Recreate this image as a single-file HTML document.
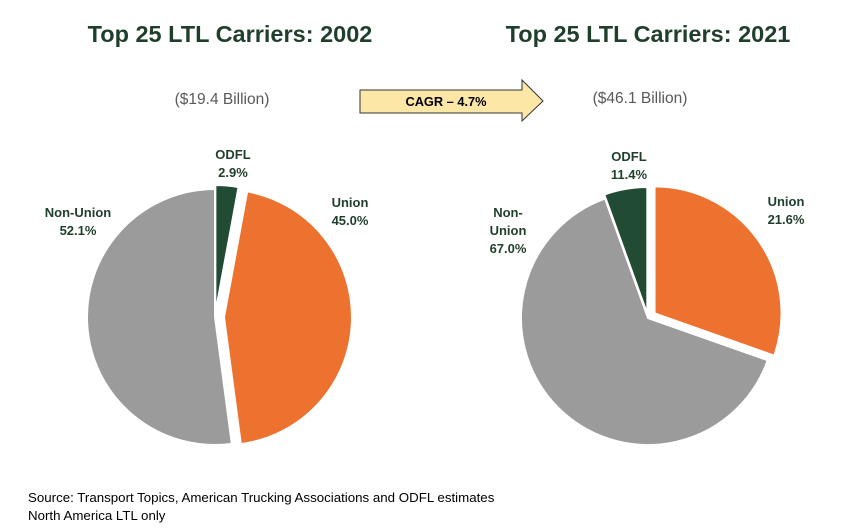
<!DOCTYPE html>
<html><head><meta charset="utf-8"><style>
body{margin:0;width:844px;height:532px;background:#fff;font-family:"Liberation Sans",sans-serif;position:relative;overflow:hidden}
.t{position:absolute;font-weight:bold;font-size:23.5px;color:#1f3f2c;white-space:nowrap;transform:translateX(-50%)}
.s{position:absolute;font-size:15.5px;color:#595959;white-space:nowrap;transform:translateX(-50%)}
.src{position:absolute;left:28px;font-size:13.3px;color:#000;white-space:nowrap}
</style></head><body>
<div class="t" style="left:230px;top:21px">Top 25 LTL Carriers: 2002</div>
<div class="t" style="left:648px;top:21px">Top 25 LTL Carriers: 2021</div>
<div class="s" style="left:222px;top:91px">($19.4 Billion)</div>
<div class="s" style="left:640px;top:90px">($46.1 Billion)</div>
<svg width="844" height="532" style="position:absolute;left:0;top:0" id="chart">
<g>
<polygon points="360,90 522,90 522,80 543,101 522,121 522,113 360,113" fill="#fde7a6" stroke="#333" stroke-width="1"/>
<text x="446" y="106" text-anchor="middle" font-family="Liberation Sans, sans-serif" font-weight="bold" font-size="12.8" fill="#000">CAGR – 4.7%</text>
</g>
</svg>
<div class="src" style="top:490px">Source: Transport Topics, American Trucking Associations and ODFL estimates</div>
<div class="src" style="top:508px">North America LTL only</div>
<script>
const cats2002 = ["ODFL","Union","Non-Union"];
const vals2002 = [2.9,45.0,52.1];
const labels2002 = ["2.9%","45.0%","52.1%"];
const cats2021 = ["Union","Non-Union","ODFL"];
const vals2021 = [30.4,64.1,5.5];
const labels2021 = ["21.6%","67.0%","11.4%"];
const colors = {"ODFL":"#224b33","Union":"#ed7230","Non-Union":"#9b9b9b"};
const svg = document.getElementById('chart');
const NS = "http://www.w3.org/2000/svg";
function pie(cats, vals, cx, cy, r, explode, name){
  const total = vals.reduce((a,b)=>a+b,0);
  let a0 = 0;
  cats.forEach((c,i)=>{
    const a1 = a0 + vals[i]/total*2*Math.PI;
    const mid = (a0+a1)/2, e = explode[c]||0;
    const ox = cx + e*Math.sin(mid), oy = cy - e*Math.cos(mid);
    const x0 = ox + r*Math.sin(a0), y0 = oy - r*Math.cos(a0);
    const x1 = ox + r*Math.sin(a1), y1 = oy - r*Math.cos(a1);
    const large = (a1-a0) > Math.PI ? 1 : 0;
    const p = document.createElementNS(NS,'path');
    p.setAttribute('d',`M${ox},${oy} L${x0},${y0} A${r},${r} 0 ${large} 1 ${x1},${y1} Z`);
    p.setAttribute('fill',colors[c]);
    p.setAttribute('stroke','#fff');
    p.setAttribute('stroke-width','2');
    
    
    svg.appendChild(p);
    a0 = a1;
  });
}
pie(cats2002, vals2002, 215, 317, 128, {"Union":9,"ODFL":4}, 'pie-2002');
pie(cats2021, vals2021, 648, 318, 127, {"Union":8,"ODFL":4}, 'pie-2021');
function label(lines, x, y, name){
  const t = document.createElementNS(NS,'text');
  t.setAttribute('text-anchor','middle');
  t.setAttribute('font-family','Liberation Sans, sans-serif');
  t.setAttribute('font-weight','bold');
  t.setAttribute('font-size','13');
  t.setAttribute('fill','#1f3f2c');
  
  
  lines.forEach((l,i)=>{
    const s = document.createElementNS(NS,'tspan');
    s.setAttribute('x',x); s.setAttribute('y',y+i*18); s.textContent=l; t.appendChild(s);
  });
  svg.appendChild(t);
}
label([cats2002[0],labels2002[0]],233,159,'label-2002-odfl');
label([cats2002[1],labels2002[1]],350,207,'label-2002-union');
label([cats2002[2],labels2002[2]],78,217,'label-2002-non-union');
label([cats2021[2],labels2021[2]],629,161,'label-2021-odfl');
label([cats2021[0],labels2021[0]],786,206,'label-2021-union');
label(["Non-","Union",labels2021[1]],508,217,'label-2021-non-union');
</script>
</body></html>
